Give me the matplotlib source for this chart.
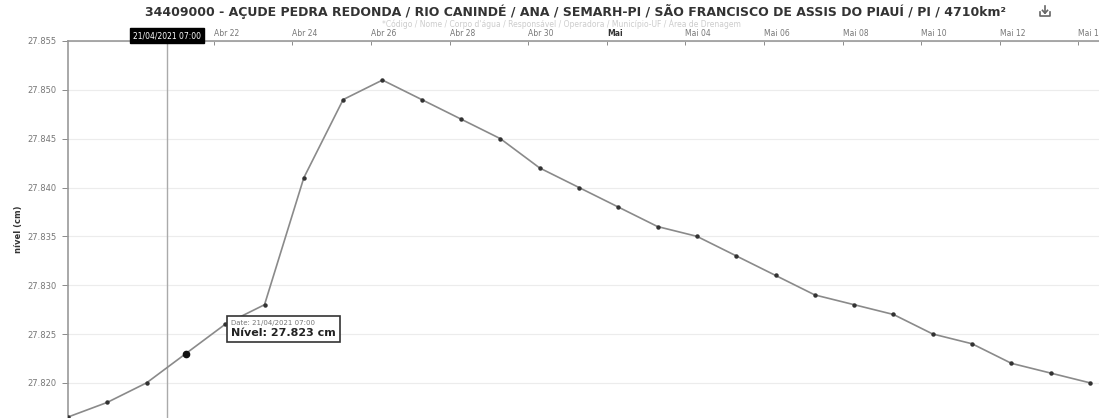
import pandas as pd
import matplotlib
matplotlib.use("Agg")
import matplotlib.pyplot as plt
from matplotlib.lines import Line2D
from matplotlib.offsetbox import TextArea, VPacker, AnnotationBbox

# daily level readings (07:00), 18/04/2021 .. 14/05/2021
dates = pd.date_range("2021-04-18 07:00", periods=27, freq="D")
nivel = [27.8165, 27.818, 27.820, 27.823, 27.826, 27.828, 27.841, 27.849, 27.851,
         27.849, 27.847, 27.845, 27.842, 27.840, 27.838, 27.836, 27.835, 27.833,
         27.831, 27.829, 27.828, 27.827, 27.825, 27.824, 27.822, 27.821, 27.820]

tick_dates = pd.date_range("2021-04-22", "2021-05-14", freq="2D")
tick_labels = ["Abr 22", "Abr 24", "Abr 26", "Abr 28", "Abr 30", "Mai",
               "Mai 04", "Mai 06", "Mai 08", "Mai 10", "Mai 12", "Mai 14"]
y_ticks = [27.820, 27.825, 27.830, 27.835, 27.840, 27.845, 27.850, 27.855]

title = ("34409000 - AÇUDE PEDRA REDONDA / RIO CANINDÉ / ANA / SEMARH-PI / "
         "SÃO FRANCISCO DE ASSIS DO PIAUÍ / PI / 4710km²")
subtitle = ("*Código / Nome / Corpo d'água / Responsável / Operadora / "
            "Município-UF / Área de Drenagem")

hover_idx = 3
cross_date = pd.Timestamp("2021-04-20 19:30")

W, H = 1099, 418
fig = plt.figure(figsize=(W / 100, H / 100), dpi=100)
ax = fig.add_axes([68 / W, 0, (W - 68) / W, (H - 41) / H])

ax.plot(dates, nivel, color="#8a8a8a", lw=1.2, marker="o", ms=2.2,
        mfc="#333333", mec="#333333", zorder=3)
ax.plot(dates[hover_idx], nivel[hover_idx], "o", color="#111111", ms=4.5, zorder=4)

ax.set_xlim(dates[0], dates[0] + pd.Timedelta(days=26.23))
ax.set_ylim(27.8164, 27.855)

ax.set_yticks(y_ticks)
ax.set_yticklabels([f"{v:.3f}" for v in y_ticks])
ax.grid(axis="y", color="#ececec", lw=0.8)
ax.tick_params(axis="y", labelsize=6, colors="#777777", length=4, width=0.6, pad=4)

ax.xaxis.tick_top()
ax.set_xticks(tick_dates)
ax.set_xticklabels(tick_labels, ha="left")
ax.tick_params(axis="x", labelsize=5.5, colors="#777777", length=3, width=0.6,
               pad=2, direction="in")
for lab in ax.get_xticklabels():
    if lab.get_text() == "Mai":
        lab.set_fontweight("bold")
        lab.set_color("#333333")

for s in ["right", "bottom"]:
    ax.spines[s].set_visible(False)
for s in ["left", "top"]:
    ax.spines[s].set_color("#999999")
    ax.spines[s].set_linewidth(1.2)

ax.set_ylabel("nível (cm)", fontsize=6, fontweight="bold", color="#333333", labelpad=3)

# crosshair
ax.axvline(cross_date, color="#aaaaaa", lw=1, zorder=2)
ax.text(cross_date, 1.014, "21/04/2021 07:00", transform=ax.get_xaxis_transform(),
        ha="center", va="center", fontsize=5.5, color="white",
        bbox=dict(boxstyle="square,pad=0.4", fc="black", ec="black"), clip_on=False)

# tooltip
tip_xy = (dates[hover_idx + 1], nivel[hover_idx + 1])
tip = VPacker(children=[
    TextArea("Date: 21/04/2021 07:00", textprops=dict(size=5, color="#777777")),
    TextArea("Nível: 27.823 cm", textprops=dict(size=8, weight="bold", color="#222222")),
], align="left", pad=0, sep=1.5)
ab = AnnotationBbox(tip, tip_xy, xybox=(4.5, 3), xycoords="data", boxcoords="offset points",
                    box_alignment=(0, 1), frameon=True, pad=0.4, zorder=6,
                    bboxprops=dict(boxstyle="square", fc="white", ec="#333333", lw=1.2))
ax.add_artist(ab)

fig.text(0.524, 0.973, title, ha="center", va="center", fontsize=9,
         fontweight="bold", color="#333333")
fig.text(0.511, 0.943, subtitle, ha="center", va="center", fontsize=5.5, color="#cccccc")

# download icon
ix, iy = 1045 / W, 1 - 12 / H
dx, dy = 5 / W, 4 / H
for xs, ys in [([ix - dx, ix - dx, ix + dx, ix + dx], [iy, iy - dy, iy - dy, iy]),
               ([ix, ix], [iy + 1.5 * dy, iy - 0.3 * dy])]:
    fig.add_artist(Line2D(xs, ys, color="#666666", lw=1.2))
fig.add_artist(Line2D([ix - 0.5 * dx, ix, ix + 0.5 * dx],
                      [iy + 0.4 * dy, iy - 0.3 * dy, iy + 0.4 * dy], color="#666666", lw=1.2))

fig.savefig("out.png", dpi=100)
